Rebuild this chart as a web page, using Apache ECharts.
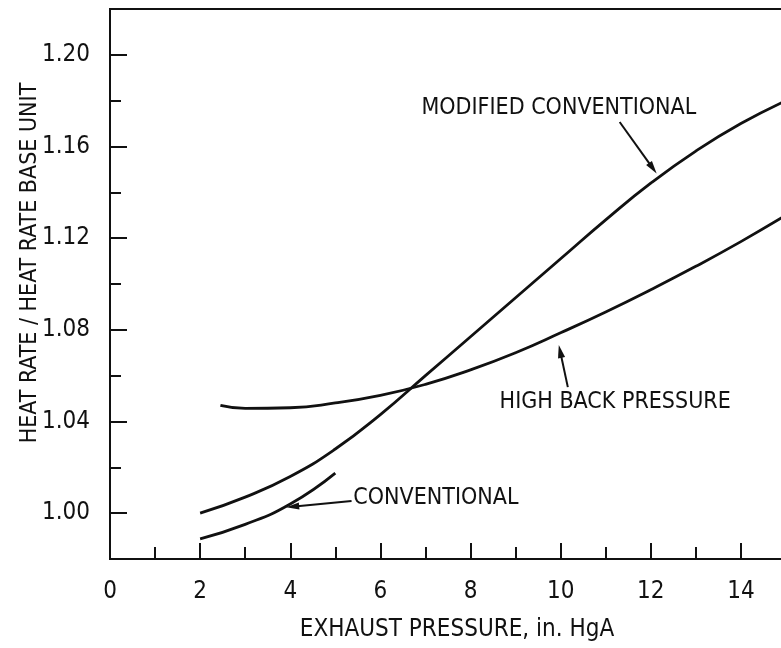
<!DOCTYPE html>
<html>
<head>
<meta charset="utf-8">
<title>Heat rate vs exhaust pressure</title>
<script src="https://cdn.jsdelivr.net/npm/echarts@6/dist/echarts.min.js"></script>
<style>
  html, body { margin: 0; padding: 0; background: #fff; }
  #chart { width: 781px; height: 648px; }
</style>
</head>
<body>
<div id="chart"></div>
<script>
// Typeface: narrow grotesque, as on the printed figure
const FONT = "'Liberation Sans Narrow', 'DejaVu Sans Condensed', 'Arial Narrow', sans-serif";
const INK = '#111';

// Exhaust pressure (in. HgA) and heat-rate ratio for each design
const convX = [2, 3, 4, 5];
const convY = [0.9888, 0.9951, 1.0040, 1.0175];

const modX = [2, 3, 4, 5, 6, 7, 8, 9, 10, 11, 12, 13, 14, 15];
const modY = [1.000, 1.007, 1.016, 1.028, 1.043, 1.060, 1.077, 1.094, 1.111, 1.128, 1.144, 1.158, 1.170, 1.180];

const hbpX = [2.45, 3, 4, 5, 6, 7, 8, 9, 10, 11, 12, 13, 14, 15];
const hbpY = [1.047, 1.0457, 1.0460, 1.0481, 1.0514, 1.0562, 1.0625, 1.070, 1.0787, 1.0878, 1.0975, 1.1077, 1.1185, 1.130];

// Axis ticks
const xMajor = [0, 2, 4, 6, 8, 10, 12, 14, 16];
const yMajor = [1.00, 1.04, 1.08, 1.12, 1.16, 1.20];
const yMinor = [1.02, 1.06, 1.10, 1.14, 1.18];

// Callout labels with their leader arrows (data coordinates)
const calloutText = ['MODIFIED CONVENTIONAL', 'HIGH BACK PRESSURE', 'CONVENTIONAL'];
const calloutAt = [[9.96, 1.1768], [11.21, 1.0485], [5.40, 1.0066]];
const calloutAlign = ['center', 'center', 'left'];
const arrowFrom = [[11.31, 1.1707], [10.16, 1.0550], [5.36, 1.0053]];
const arrowTo = [[12.13, 1.1482], [9.96, 1.0734], [3.91, 1.0026]];

const pairs = (xs, ys) => xs.map((x, i) => [x, ys[i]]);

const curveStyle = { color: INK, width: 2.8 };
const curve = (name, xs, ys) => ({
  name, type: 'line', data: pairs(xs, ys), smooth: true,
  showSymbol: false, lineStyle: curveStyle, silent: true
});

const option = {
  backgroundColor: '#fff',
  animation: false,
  grid: {
    left: 110, top: 9, width: 721, height: 550,
    outerBoundsMode: 'none', containLabel: false,
    show: true, borderColor: INK, borderWidth: 2, backgroundColor: 'transparent'
  },
  xAxis: {
    type: 'value', min: 0, max: 16, interval: 2,
    axisLine: { show: true, lineStyle: { color: INK, width: 2 } },
    axisTick: { show: true, inside: true, length: 16, lineStyle: { color: INK, width: 2 } },
    minorTick: { show: true, splitNumber: 2, length: 12, lineStyle: { color: INK, width: 2 } },
    axisLabel: {
      customValues: xMajor,
      color: INK, fontFamily: FONT, fontSize: 24, margin: 21
    },
    splitLine: { show: false }
  },
  yAxis: [
    {
      type: 'value', min: 0.98, max: 1.22, position: 'left',
      axisLine: { show: true, lineStyle: { color: INK, width: 2 } },
      axisTick: { show: true, inside: true, length: 17, customValues: yMajor, lineStyle: { color: INK, width: 2 } },
      axisLabel: {
        customValues: yMajor,
        formatter: v => v.toFixed(2),
        color: INK, fontFamily: FONT, fontSize: 24, margin: 20
      },
      splitLine: { show: false }
    },
    {
      type: 'value', min: 0.98, max: 1.22, position: 'left',
      axisLine: { show: false },
      axisTick: { show: true, inside: true, length: 11, customValues: yMinor, lineStyle: { color: INK, width: 2 } },
      axisLabel: { show: false },
      splitLine: { show: false }
    }
  ],
  series: [
    curve('CONVENTIONAL', convX, convY),
    curve('MODIFIED CONVENTIONAL', modX, modY),
    curve('HIGH BACK PRESSURE', hbpX, hbpY)
  ],
  graphic: [
    {
      type: 'text', x: 30, y: 263, rotation: Math.PI / 2,
      style: {
        text: 'HEAT RATE / HEAT RATE BASE UNIT', fill: INK,
        font: '23px ' + FONT, align: 'center', verticalAlign: 'middle'
      }
    },
    {
      type: 'text', x: 457, y: 630,
      style: {
        text: 'EXHAUST PRESSURE, in. HgA', fill: INK,
        font: '24px ' + FONT, align: 'center', verticalAlign: 'middle'
      }
    }
  ]
};

const chart = echarts.init(document.getElementById('chart'), null, { renderer: 'canvas' });
chart.setOption(option);

// Leader arrows and callout text, placed through the grid's coordinate system
function toPx(p) { return chart.convertToPixel({ gridIndex: 0 }, p); }

const extra = [];
calloutText.forEach((t, i) => {
  const a = toPx(calloutAt[i]);
  extra.push({
    type: 'text', x: a[0], y: a[1], silent: true,
    style: { text: t, fill: INK, font: '23px ' + FONT, align: calloutAlign[i], verticalAlign: 'middle' }
  });
  const p0 = toPx(arrowFrom[i]);
  const p1 = toPx(arrowTo[i]);
  const dx = p1[0] - p0[0], dy = p1[1] - p0[1];
  const len = Math.hypot(dx, dy);
  const ux = dx / len, uy = dy / len;
  const headLen = 13, headHalf = 3.6;
  const bx = p1[0] - ux * headLen, by = p1[1] - uy * headLen;
  extra.push({
    type: 'line', silent: true,
    shape: { x1: p0[0], y1: p0[1], x2: bx + ux * 2, y2: by + uy * 2 },
    style: { stroke: INK, lineWidth: 2 }
  });
  extra.push({
    type: 'polygon', silent: true,
    shape: { points: [[p1[0], p1[1]], [bx - uy * headHalf, by + ux * headHalf], [bx + uy * headHalf, by - ux * headHalf]] },
    style: { fill: INK }
  });
});
chart.setOption({ graphic: option.graphic.concat(extra) });
</script>
</body>
</html>
